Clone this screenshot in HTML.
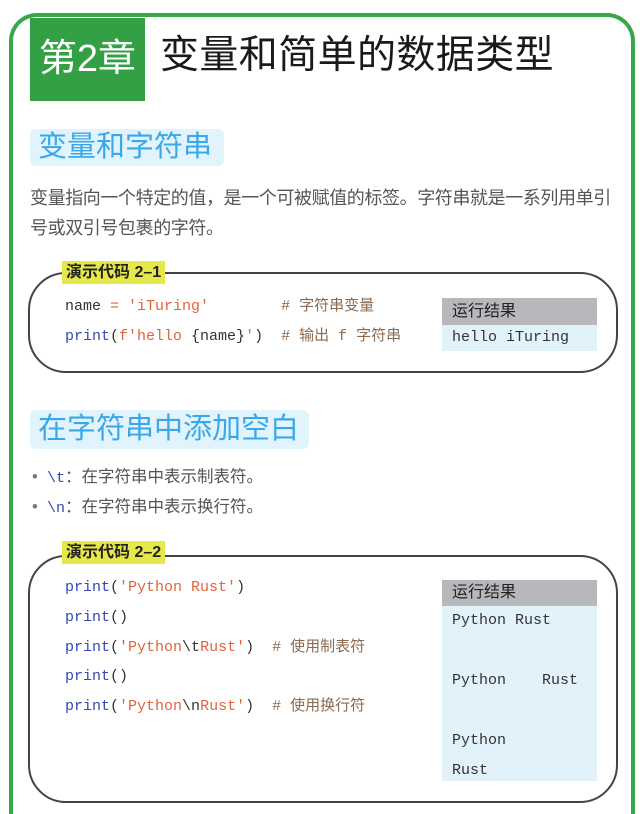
<!DOCTYPE html>
<html><head><meta charset="utf-8"><style>
*{margin:0;padding:0;box-sizing:border-box}
html,body{width:640px;height:814px;overflow:hidden}
body{background:#fff;position:relative;font-family:"Liberation Sans","Noto Sans CJK SC",sans-serif}
.abs{position:absolute}
.frame{left:9px;top:13px;width:626px;height:801px;border:4px solid #3aa64a;border-bottom:none;border-radius:28px 28px 0 0}
.tab{left:30px;top:18px;width:115px;height:83px;background:#34a046;color:#fff;font-size:38px;line-height:83px;text-align:center}
.title{left:160px;top:26px;font-size:39px;line-height:60px;color:#1a1a1a;letter-spacing:0.4px}
.h2{background:#e1f3fd;color:#3aa8e8;border-radius:6px;font-size:29px;padding-left:8px}
.p{color:#555;font-size:18px;line-height:30px;letter-spacing:-0.4px}
.box{border:2px solid #444;border-radius:38px}
.lbl{background:#e6e84a;font-size:16px;font-weight:bold;color:#222;line-height:23px;padding:0 4px;height:23px}
.code{font-family:"Liberation Mono","Noto Sans CJK SC",monospace;font-size:15px;color:#333;white-space:pre}
.kw{color:#3348b0}.s{color:#e0643c}.c{color:#8a6a50}
.rh{background:#b8b8bc;color:#222;font-size:16px;padding-left:10px}
.rb{background:#e2f2fb;}
</style></head><body>
<div class="abs frame"></div>
<div class="abs tab">第2章</div>
<div class="abs title">变量和简单的数据类型</div>

<div class="abs h2" style="left:30px;top:129px;width:194px;height:37px;line-height:37px">变量和字符串</div>
<div class="abs p" style="left:30px;top:183px;width:588px">变量指向一个特定的值，是一个可被赋值的标签。字符串就是一系列用单引号或双引号包裹的字符。</div>

<div class="abs box" style="left:28px;top:272px;width:590px;height:101px"></div>
<div class="abs lbl" style="left:62px;top:261px">演示代码 2–1</div>
<div class="abs code" style="left:65px;top:292px;line-height:30px">name <span class="s">=</span> <span class="s">'iTuring'</span>        <span class="c"># 字符串变量</span>
<span class="kw">print</span>(<span class="s">f'hello </span>{name}<span class="s">'</span>)  <span class="c"># 输出 f 字符串</span></div>
<div class="abs rh" style="left:442px;top:298px;width:155px;height:27px;line-height:27px">运行结果</div>
<div class="abs rb code" style="left:442px;top:325px;width:155px;height:26px;line-height:26px;padding-left:10px">hello iTuring</div>

<div class="abs h2" style="left:30px;top:410px;width:279px;height:39px;line-height:39px">在字符串中添加空白</div>
<div class="abs" style="left:32px;top:463px;line-height:29px;font-size:16.5px;color:#555"><span style="color:#777">•</span>&nbsp;&nbsp;<span class="code kw">\t</span>：在字符串中表示制表符。<br><span style="color:#777">•</span>&nbsp;&nbsp;<span class="code kw">\n</span>：在字符串中表示换行符。</div>

<div class="abs box" style="left:28px;top:555px;width:590px;height:248px"></div>
<div class="abs lbl" style="left:62px;top:541px">演示代码 2–2</div>
<div class="abs code" style="left:65px;top:573px;line-height:29.8px"><span class="kw">print</span>(<span class="s">'Python Rust'</span>)
<span class="kw">print</span>()
<span class="kw">print</span>(<span class="s">'Python</span>\t<span class="s">Rust'</span>)  <span class="c"># 使用制表符</span>
<span class="kw">print</span>()
<span class="kw">print</span>(<span class="s">'Python</span>\n<span class="s">Rust'</span>)  <span class="c"># 使用换行符</span></div>
<div class="abs rh" style="left:442px;top:580px;width:155px;height:26px;line-height:26px">运行结果</div>
<div class="abs rb code" style="left:442px;top:606px;width:155px;height:175px;line-height:30px;padding-left:10px">Python Rust

Python    Rust

Python
Rust</div>
</body></html>
